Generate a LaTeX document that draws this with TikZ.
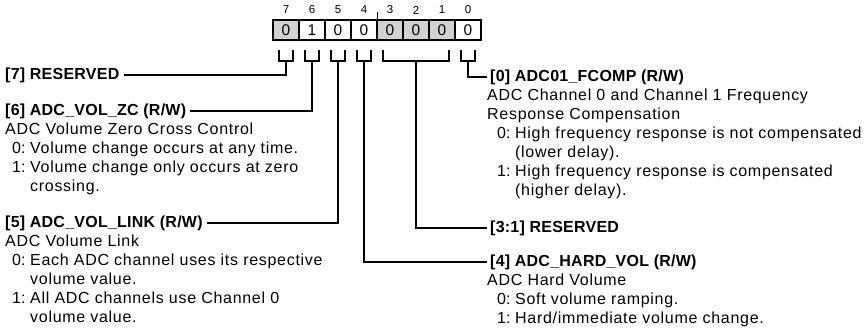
\documentclass[tikz,border=0pt]{standalone}
\usepackage{fontspec}
\setmainfont{Liberation Sans}
\usetikzlibrary{calc}
\tikzset{
  cell/.style={draw, line width=1.8pt, minimum width=26pt, minimum height=20pt, inner sep=0pt, font=\fontsize{15.5}{15.5}\selectfont},
  gcell/.style={cell, fill=black!18},
  bitnum/.style={inner sep=0pt, font=\fontsize{11.5}{11.5}\selectfont},
  conn/.style={line width=1.8pt},
  hdr/.style={anchor=base west, inner sep=0pt, font=\bfseries\fontsize{16}{19}\selectfont\addfontfeatures{LetterSpace=1.5}},
  txt/.style={anchor=base west, inner sep=0pt, font=\fontsize{16}{19}\selectfont\addfontfeatures{LetterSpace=4.4}},
  num/.style={anchor=base west, inner sep=0pt, font=\fontsize{16}{19}\selectfont},
}
\begin{document}
\begin{tikzpicture}[x=1pt,y=-1pt]
\useasboundingbox (0,0) rectangle (864,333);
% register cells
\node[gcell] (c7) at (286,30) {0};
\node[cell]  (c6) at (312,30) {1};
\node[cell]  (c5) at (338,30) {0};
\node[cell]  (c4) at (364,30) {0};
\node[gcell] (c3) at (390,30) {0};
\node[gcell] (c2) at (416,30) {0};
\node[gcell] (c1) at (442,30) {0};
\node[cell]  (c0) at (468,30) {0};
% bit numbers
\foreach \b/\x in {7/286,6/312,5/338,4/364,3/390,2/416,1/442,0/468}
  \node[bitnum] (n\b) at (\x,10) {\b};
\coordinate (tk) at ($(c4.north east)$);
\draw[line width=1pt] (tk) -- ++(0,-7);
% brackets
\foreach \c in {c7,c6,c5,c4,c0}
  \draw[conn] ($(\c.south)+(-7,9)$) |- ($(\c.south)+(7,20)$) -- ++(0,-11);
\draw[conn] ($(c3.south)+(-7,9)$) |- ($(c1.south)+(7,20)$) -- ++(0,-11);
% left labels
\node[hdr] (l7) at (5,79.5) {[7] RESERVED};
\node[hdr] (l6) at (5,115.5) {[6] ADC\_VOL\_ZC (R/W)};
\node[txt] (t6a) at (5,134.5) {ADC Volume Zero Cross Control};
\node[num] (t6b) at (12,153.5) {0:};
\node[txt] (t6c) at (30,153.5) {Volume change occurs at any time.};
\node[num] (t6d) at (12,172.5) {1:};
\node[txt] (t6e) at (30,172.5) {Volume change only occurs at zero};
\node[txt] (t6f) at (30,191.5) {crossing.};
\node[hdr] (l5) at (5,227.5) {[5] ADC\_VOL\_LINK (R/W)};
\node[txt] (t5a) at (5,246.5) {ADC Volume Link};
\node[num] (t5b) at (12,265.5) {0:};
\node[txt] (t5c) at (30,265.5) {Each ADC channel uses its respective};
\node[txt] (t5d) at (30,284.5) {volume value.};
\node[num] (t5e) at (12,303.5) {1:};
\node[txt] (t5f) at (30,303.5) {All ADC channels use Channel 0};
\node[txt] (t5g) at (30,322.5) {volume value.};
% right labels
\node[hdr] (l0) at (490,81.5) {[0] ADC01\_FCOMP (R/W)};
\node[txt] (t0a) at (487,100.5) {ADC Channel 0 and Channel 1 Frequency};
\node[txt] (t0b) at (487,119.5) {Response Compensation};
\node[num] (t0c) at (497,138.5) {0:};
\node[txt] (t0d) at (515,138.5) {High frequency response is not compensated};
\node[txt] (t0e) at (515,157.5) {(lower delay).};
\node[num] (t0f) at (497,176.5) {1:};
\node[txt] (t0g) at (515,176.5) {High frequency response is compensated};
\node[txt] (t0h) at (515,195.5) {(higher delay).};
\node[hdr] (l31) at (490,232.5) {[3:1] RESERVED};
\node[hdr] (l4) at (490,266.5) {[4] ADC\_HARD\_VOL (R/W)};
\node[txt] (t4a) at (487,285.5) {ADC Hard Volume};
\node[num] (t4b) at (497,304.5) {0:};
\node[txt] (t4c) at (515,304.5) {Soft volume ramping.};
\node[num] (t4d) at (497,323.5) {1:};
\node[txt] (t4e) at (515,323.5) {Hard/immediate volume change.};
% connectors
\draw[conn] ($(c7.south)+(0,20)$) |- ($(l7.east)+(4,0)$);
\draw[conn] ($(c6.south)+(0,20)$) |- ($(l6.east)+(4,0)$);
\draw[conn] ($(c5.south)+(0,20)$) |- ($(l5.east)+(4,0)$);
\draw[conn] ($(c4.south)+(0,20)$) |- ($(l4.west)+(-3,0)$);
\draw[conn] ($(c2.south)+(0,20)$) |- ($(l31.west)+(-3,0)$);
\draw[conn] ($(c0.south)+(0,20)$) |- ($(l0.west)+(-3,0)$);
\end{tikzpicture}
\end{document}
